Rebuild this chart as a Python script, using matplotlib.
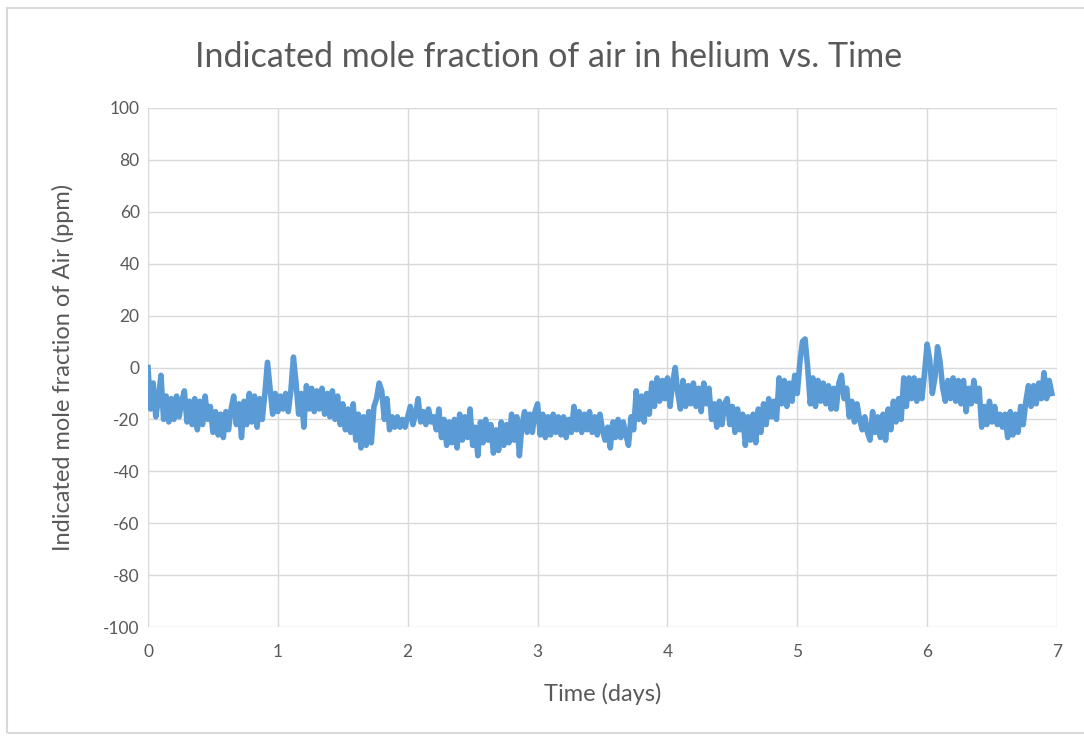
import numpy as np
import matplotlib
matplotlib.use("Agg")
import matplotlib.pyplot as plt
from matplotlib.patches import Rectangle

time_step_days = 0.02
air_ppm = [
    0, -16, -6, -19, -12, -3, -20, -11, -21, -12,
    -20, -11, -19, -13, -9, -21, -13, -22, -12, -24,
    -13, -22, -11, -20, -15, -25, -17, -26, -18, -27,
    -17, -24, -16, -11, -22, -14, -27, -13, -22, -10,
    -21, -11, -23, -12, -20, -10, 2, -8, -18, -10,
    -17, -11, -16, -10, -17, -9, 4, -6, -18, -10,
    -23, -7, -16, -8, -17, -9, -16, -8, -18, -10,
    -19, -9, -20, -11, -22, -14, -24, -16, -25, -14,
    -28, -18, -31, -19, -30, -17, -29, -15, -12, -6,
    -9, -20, -12, -24, -19, -23, -19, -23, -20, -23,
    -19, -15, -22, -18, -12, -21, -17, -22, -16, -21,
    -19, -24, -16, -27, -20, -30, -21, -29, -20, -31,
    -18, -28, -19, -27, -16, -30, -23, -34, -21, -29,
    -20, -28, -22, -33, -24, -32, -21, -30, -22, -29,
    -18, -28, -19, -34, -22, -17, -25, -18, -25, -17,
    -14, -26, -18, -27, -19, -26, -18, -25, -19, -26,
    -19, -27, -20, -25, -15, -24, -17, -25, -18, -24,
    -17, -25, -19, -26, -18, -24, -28, -23, -31, -21,
    -27, -20, -27, -21, -26, -30, -19, -24, -9, -20,
    -11, -21, -10, -18, -6, -15, -4, -13, -5, -12,
    -4, -15, -6, 0, -10, -16, -5, -15, -7, -14,
    -6, -15, -8, -17, -6, -14, -8, -20, -14, -23,
    -13, -22, -14, -12, -22, -15, -25, -16, -24, -18,
    -30, -19, -28, -18, -29, -16, -25, -14, -22, -12,
    -19, -13, -20, -4, -14, -5, -15, -6, -13, -3,
    -10, 2, 10, 11, 0, -14, -4, -15, -5, -13,
    -6, -14, -7, -16, -8, -16, -6, -3, -12, -8,
    -19, -13, -21, -14, -20, -24, -19, -25, -28, -17,
    -25, -19, -27, -18, -28, -16, -24, -13, -21, -12,
    -20, -4, -15, -4, -12, -4, -13, -5, -12, -2,
    9, 3, -10, -4, 8, 2, -8, -13, -5, -12,
    -4, -13, -5, -14, -5, -17, -8, -14, -5, -13,
    -8, -23, -15, -22, -13, -21, -15, -22, -18, -23,
    -18, -27, -17, -26, -18, -25, -15, -22, -13, -7,
    -15, -7, -14, -6, -12, -2, -12, -5, -10,
]
time_days = np.arange(len(air_ppm)) * time_step_days

x_ticks = [0, 1, 2, 3, 4, 5, 6, 7]
y_ticks = [-100, -80, -60, -40, -20, 0, 20, 40, 60, 80, 100]

title = "Indicated mole fraction of air in helium vs. Time"
x_label = "Time (days)"
y_label = "Indicated mole fraction of Air (ppm)"

plt.rcParams['font.family'] = ['Lato', 'DejaVu Sans']
plt.rcParams['axes.unicode_minus'] = False
text_color = "#595959"
grid_color = "#d9d9d9"
line_color = "#5b9bd5"

W, H = 1084, 738
fig = plt.figure(figsize=(W / 100, H / 100), dpi=100)
ax = fig.add_axes([148 / W, 1 - 627 / H, (1057 - 148) / W, (627 - 108) / H])

ax.plot(time_days, air_ppm, color=line_color, lw=4.0, solid_joinstyle='round', zorder=3)

ax.set_xlim(0, 7)
ax.set_ylim(-100, 100)
ax.set_xticks(x_ticks)
ax.set_yticks(y_ticks)
ax.grid(True, color=grid_color, lw=1.0, zorder=0)
for s in ax.spines.values():
    s.set_visible(False)
ax.tick_params(axis='both', length=0, labelsize=12.5, labelcolor=text_color)
ax.tick_params(axis='x', pad=12)
ax.tick_params(axis='y', pad=6)

ax.set_xlabel(x_label, fontsize=17, color=text_color, labelpad=17)
ax.set_ylabel(y_label, fontsize=17, color=text_color, labelpad=21)
fig.text(549 / W, 1 - 57 / H, title, ha='center', va='center', fontsize=24.5, color=text_color)

fig.patches.append(Rectangle((7 / W, 1 - 733 / H), (W + 10) / W, (733 - 8) / H,
                             transform=fig.transFigure, fill=False,
                             edgecolor=grid_color, lw=1.5))

fig.savefig("out.png", dpi=100, facecolor="white")
